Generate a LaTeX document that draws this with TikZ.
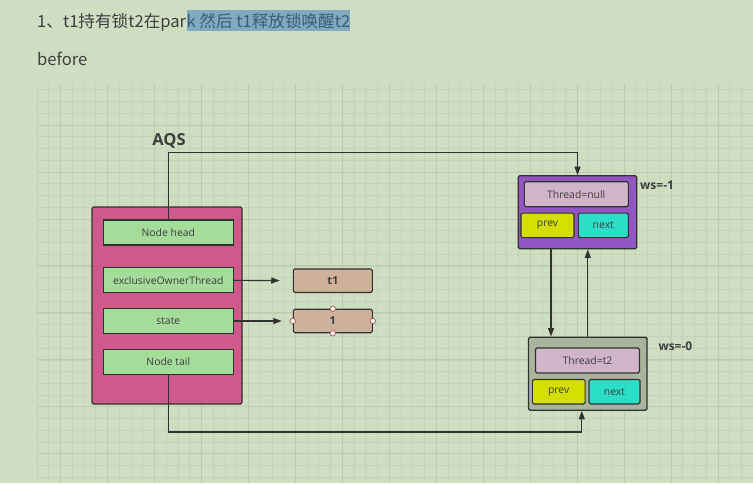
\documentclass[tikz,border=0pt]{standalone}
\usepackage{fontspec}
\setmainfont{Open Sans}
\newfontfamily\cjk{Noto Sans CJK SC}
\usepackage{tikz}
\usetikzlibrary{arrows.meta, positioning}
\definecolor{bggreen}{RGB}{207,222,195}
\definecolor{gridminor}{RGB}{194,211,182}
\definecolor{gridmajor}{RGB}{186,204,174}
\definecolor{linedark}{RGB}{48,50,48}
\definecolor{textdark}{RGB}{62,62,62}
\definecolor{aqspink}{RGB}{206,89,138}
\definecolor{fieldgreen}{RGB}{163,221,153}
\definecolor{valtan}{RGB}{205,177,155}
\definecolor{headpurple}{RGB}{146,86,194}
\definecolor{tailgray}{RGB}{168,180,158}
\definecolor{threadlilac}{RGB}{208,180,200}
\definecolor{prevyellow}{RGB}{212,222,0}
\definecolor{nextteal}{RGB}{42,222,200}
\definecolor{hlblue}{RGB}{128,170,190}
\definecolor{hltext}{RGB}{60,94,118}
\definecolor{handlered}{RGB}{165,85,80}

\begin{document}
\begin{tikzpicture}[x=1pt, y=-1pt,
    box/.style={draw=linedark, line width=1.1pt, rounded corners=1.5pt, inner sep=0pt, text=textdark, font=\fontsize{10.4}{12}\selectfont},
    field/.style={box, fill=fieldgreen, rounded corners=0pt, minimum width=130pt, minimum height=25pt},
    valbox/.style={box, fill=valtan, minimum width=79pt, minimum height=23.5pt, font=\bfseries\fontsize{11}{13}\selectfont},
    qnode/.style={box, line width=1.3pt, minimum width=118.5pt, minimum height=73pt},
    threadbox/.style={box, fill=threadlilac, minimum width=104pt, minimum height=25pt},
    ptrbox/.style={box, minimum height=24.5pt},
    wslabel/.style={anchor=west, inner sep=0pt, text=textdark, font=\bfseries\fontsize{12}{14}\selectfont},
    handle/.style={circle, draw=handlered, fill=white!90!valtan, line width=0.7pt, minimum size=5.5pt, inner sep=0pt},
    arr/.style={draw=linedark, line width=1.1pt, -{Triangle[length=8.5pt,width=6pt]}}]

    % Background and grid
    \useasboundingbox (0,0) rectangle (753,483);
    \fill[bggreen] (0,0) rectangle (753,483);
    \begin{scope}
        \clip (37,84) rectangle (753,483);
        \foreach \i in {0,...,61}
            \draw[gridminor, line width=0.6pt] (37+11.74*\i,84) -- (37+11.74*\i,483);
        \foreach \j in {-3,...,30}
            \draw[gridminor, line width=0.6pt] (37,125+11.74*\j) -- (753,125+11.74*\j);
        \foreach \i in {2,6,...,58}
            \draw[gridmajor, line width=0.8pt] (37+11.74*\i,84) -- (37+11.74*\i,483);
        \foreach \j in {0,4,...,28}
            \draw[gridmajor, line width=0.8pt] (37,125+11.74*\j) -- (753,125+11.74*\j);
    \end{scope}

    % Title
    \node[anchor=base west, inner sep=0pt, text=textdark, font=\fontsize{16.6}{19}\selectfont] (title) at (37,27) {\cjk 1、t1持有锁t2在par};
    \node[anchor=base west, inner xsep=0pt, inner ysep=0pt, text height=17pt, text depth=4pt, fill=hlblue, text=hltext, font=\fontsize{16.6}{19}\selectfont] (titlehl) at (title.base east) {\cjk k 然后 t1释放锁唤醒t2};
    \node[anchor=base west, inner sep=0pt, text=textdark, font=\fontsize{16.6}{19}\selectfont] (before) at (37,65) {\cjk before};

    % AQS
    \node[text=textdark, font=\bfseries\fontsize{16.5}{19}\selectfont] (aqslabel) at (169,141) {AQS};
    \node[box, fill=aqspink, minimum width=150pt, minimum height=197pt] (aqs) at (167,305.5) {};
    \node[field] (head) at (168.3,232.5) {Node head};
    \node[field] (owner) at (168.3,280.2) {exclusiveOwnerThread};
    \node[field] (state) at (168.3,321) {state};
    \node[field] (tail) at (168.3,361.7) {Node tail};

    % Values
    \node[valbox] (t1) at (332.8,280.7) {t1};
    \node[valbox] (one) at (332.8,321) {1};
    \foreach \a in {north,south,east,west}
        \node[handle] at (one.\a) {};
    \draw[arr, shorten >=13pt] (owner) -- (t1);
    \draw[arr, shorten >=11pt] (state) -- (one);

    % Queue node 1
    \node[qnode, fill=headpurple] (n1) at (577.5,212.3) {};
    \node[threadbox] (n1thread) at (576.3,194.2) {Thread=null};
    \node[ptrbox, fill=prevyellow, minimum width=53pt] (n1prev) at (547.5,225.3) {prev};
    \node[ptrbox, fill=nextteal, minimum width=50pt] (n1next) at (603.3,225.3) {next};
    \node[wslabel] (n1ws) at (640,185.7) {ws=-1};

    % Queue node 2
    \node[qnode, fill=tailgray] (n2) at (587.8,373.7) {};
    \node[threadbox] (n2thread) at (587.5,360.5) {Thread=t2};
    \node[ptrbox, fill=prevyellow, minimum width=52.7pt] (n2prev) at (558.7,391.7) {prev};
    \node[ptrbox, fill=nextteal, minimum width=51pt] (n2next) at (614.5,391.7) {next};
    \node[wslabel] (n2ws) at (658.3,346.7) {ws=-0};

    % Links
    \coordinate (topbend) at (168.3,152.3);
    \coordinate (botbend) at (168.3,432);
    \draw[arr] (head.north) -- (topbend) -| (n1.north);
    \draw[arr] (tail.south) -- (botbend) -| ([xshift=-6pt]n2.south);
    \draw[arr] ([xshift=-26.5pt]n1.south) -- ([xshift=-26.5pt]n1.south |- n2.north);
    \draw[arr] (n2.north) -- (n2.north |- n1.south);
\end{tikzpicture}
\end{document}
